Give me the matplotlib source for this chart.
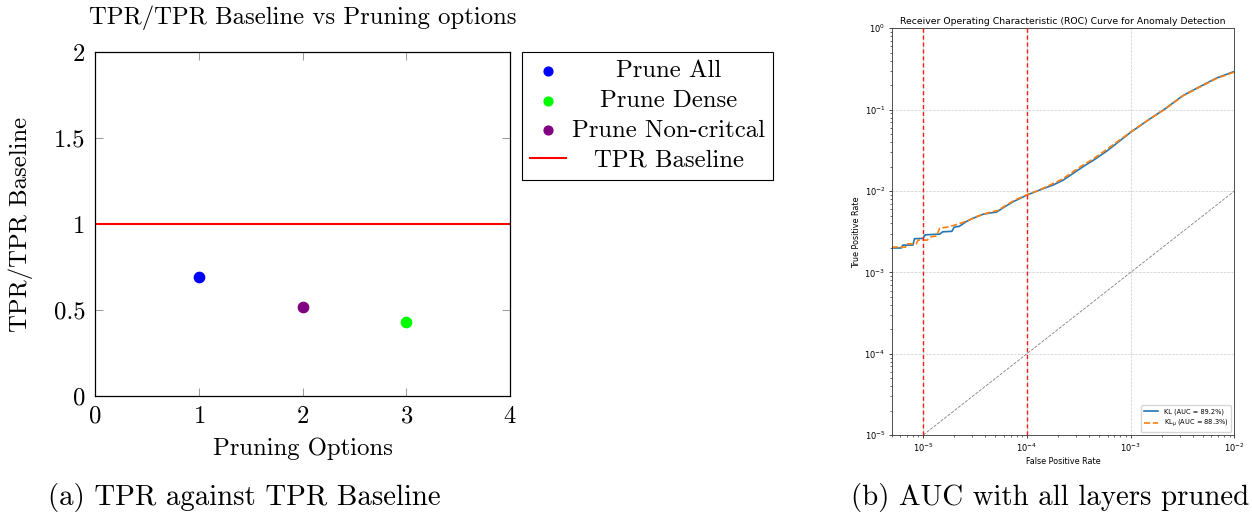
import numpy as np
import matplotlib
matplotlib.use("Agg")
import matplotlib.pyplot as plt

# ---- left panel data (TPR relative to baseline) ----
options = [1, 2, 3]
ratios = [0.69, 0.517, 0.43]
names = ["Prune All", "Prune Non-critcal", "Prune Dense"]
dot_colors = ["blue", "purple", "lime"]
baseline = 1.0
legend_order = ["Prune All", "Prune Dense", "Prune Non-critcal"]
xticks_a = [0, 1, 2, 3, 4]
yticks_a = [0, 0.5, 1, 1.5, 2]
ytick_labels_a = ["0", "0.5", "1", "1.5", "2"]

# ---- right panel data (ROC curves) ----
fpr_kl = [5e-6, 6.2e-6, 6.4e-6, 8.0e-6, 8.3e-6, 1.0e-5, 1.05e-5, 1.45e-5, 1.55e-5,
          1.9e-5, 2.0e-5, 2.25e-5, 2.6e-5, 3.0e-5, 3.8e-5, 4.5e-5, 5.1e-5, 6.0e-5,
          7.4e-5, 1.0e-4, 1.33e-4, 1.8e-4, 2.24e-4, 3.5e-4, 4.4e-4, 5.9e-4, 1.0e-3,
          1.53e-3, 2.14e-3, 3.2e-3, 4.66e-3, 6.75e-3, 1.0e-2]
tpr_kl = [2.0e-3, 2.0e-3, 2.17e-3, 2.17e-3, 2.6e-3, 2.62e-3, 2.9e-3, 2.96e-3, 3.16e-3,
          3.2e-3, 3.6e-3, 3.7e-3, 4.2e-3, 4.6e-3, 5.2e-3, 5.4e-3, 5.5e-3, 6.3e-3,
          7.4e-3, 8.9e-3, 1.03e-2, 1.19e-2, 1.36e-2, 2.0e-2, 2.4e-2, 3.1e-2, 5.26e-2,
          7.68e-2, 1.02e-1, 1.49e-1, 1.92e-1, 2.45e-1, 2.95e-1]
fpr_klmu = [5e-6, 6.8e-6, 7.0e-6, 8.6e-6, 9.0e-6, 1.1e-5, 1.2e-5, 1.35e-5, 1.45e-5,
            1.7e-5, 2.0e-5, 2.4e-5, 2.8e-5, 3.2e-5, 3.8e-5, 4.5e-5, 5.3e-5, 6.2e-5,
            7.6e-5, 1.0e-4, 1.3e-4, 1.75e-4, 2.2e-4, 3.4e-4, 4.3e-4, 5.8e-4, 1.0e-3,
            1.53e-3, 2.14e-3, 3.2e-3, 4.66e-3, 6.75e-3, 1.0e-2]
tpr_klmu = [2.05e-3, 2.05e-3, 2.25e-3, 2.25e-3, 2.5e-3, 2.5e-3, 2.75e-3, 2.8e-3, 3.5e-3,
            3.6e-3, 3.8e-3, 4.1e-3, 4.4e-3, 4.8e-3, 5.2e-3, 5.5e-3, 5.8e-3, 6.6e-3,
            7.7e-3, 9.0e-3, 1.02e-2, 1.22e-2, 1.4e-2, 2.05e-2, 2.45e-2, 3.2e-2, 5.3e-2,
            7.7e-2, 1.01e-1, 1.48e-1, 1.9e-1, 2.42e-1, 2.9e-1]
auc_kl = 89.2
auc_klmu = 88.3
fpr_marks = [1e-5, 1e-4]

plt.rcParams["axes.formatter.use_mathtext"] = True
fig = plt.figure(figsize=(12.52, 5.18), dpi=100)

# ================= (a) =================
cm = "cmr10"
fs = 17.8
ax = fig.add_axes([0.0759, 0.2355, 0.3315, 0.664])
handles = {}
for x, y, n, c in zip(options, ratios, names, dot_colors):
    handles[n] = ax.scatter([x], [y], s=55, color=c, zorder=3)
handles["TPR Baseline"] = ax.axhline(baseline, color="red", lw=1.5)
ax.set_xlim(0, 4)
ax.set_ylim(0, 2)
ax.set_xticks(xticks_a)
ax.set_yticks(yticks_a)
ax.set_yticklabels(ytick_labels_a)
ax.tick_params(direction="in", top=True, right=True, length=6, width=0.6,
               color="#888888", labelsize=fs, pad=7)
for lab in ax.get_xticklabels() + ax.get_yticklabels():
    lab.set_family(cm)
for s in ax.spines.values():
    s.set_linewidth(0.9)
ax.set_title("TPR/TPR Baseline vs Pruning options", fontsize=fs, family=cm, pad=20)
ax.set_xlabel("Pruning Options", fontsize=fs, family=cm, labelpad=7)
ax.set_ylabel("TPR/TPR Baseline", fontsize=fs, family=cm, labelpad=15)

leg_labels = legend_order + ["TPR Baseline"]
leg_handles = [handles[k] for k in leg_labels]
leg = ax.legend(leg_handles, leg_labels,
                loc="upper left", bbox_to_anchor=(522 / 1252, 1 - 52 / 518),
                bbox_transform=fig.transFigure, prop={"family": cm, "size": fs},
                frameon=True, fancybox=False, edgecolor="black", framealpha=1,
                scatterpoints=1, handlelength=1.45, labelspacing=0.3,
                borderpad=0.33, handletextpad=0.25, borderaxespad=0)
leg.get_frame().set_linewidth(0.8)
for h in leg.legend_handles[:3]:
    h.set_sizes([40])

fig.text(244 / 1252, 1 - 497 / 518, "(a) TPR against TPR Baseline", family=cm,
         fontsize=20.8, ha="center", va="center")

# ================= (b) =================
bx = fig.add_axes([0.7122, 0.1597, 0.2737, 0.7857])
bx.plot(fpr_kl, tpr_kl, color="tab:blue", lw=1.2,
        label=f"KL (AUC = {auc_kl}%)")
bx.plot(fpr_klmu, tpr_klmu, color="tab:orange", lw=1.2, ls="--",
        label=rf"KL$_\mu$ (AUC = {auc_klmu}%)")
bx.plot([1e-6, 1], [1e-6, 1], ls="--", color="gray", lw=0.6)
for f in fpr_marks:
    bx.axvline(f, color="#ff1a1a", ls=(0, (3, 2)), lw=1.0, zorder=3)
bx.set_xscale("log")
bx.set_yscale("log")
bx.set_xlim(5e-6, 1e-2)
bx.set_ylim(1e-5, 1)
bx.grid(True, which="major", ls="--", color="#cccccc", lw=0.5)
bx.tick_params(labelsize=6, length=2.5, width=0.5, pad=2)
bx.tick_params(which="minor", length=1.5, width=0.4)
for s in bx.spines.values():
    s.set_linewidth(0.6)
    s.set_color("#333333")
bx.set_title("Receiver Operating Characteristic (ROC) Curve for Anomaly Detection",
             fontsize=6.7, pad=3)
bx.set_xlabel("False Positive Rate", fontsize=5.8, labelpad=2)
bx.set_ylabel("True Positive Rate", fontsize=5.8, labelpad=2)
bx.legend(loc="lower right", fontsize=4.8, handlelength=2.2)

fig.text(1050 / 1252, 1 - 497 / 518, "(b) AUC with all layers pruned", family=cm,
         fontsize=20.8, ha="center", va="center")

# center the legend texts like the pgfplots legend
fig.canvas.draw()
r = fig.canvas.get_renderer()
texts = leg.get_texts()
widths = [t.get_window_extent(r).width for t in texts]
wmax = max(widths)
for t, w in zip(texts, widths):
    t.set_x((wmax - w) / 2)

fig.savefig("out.png", dpi=100)
